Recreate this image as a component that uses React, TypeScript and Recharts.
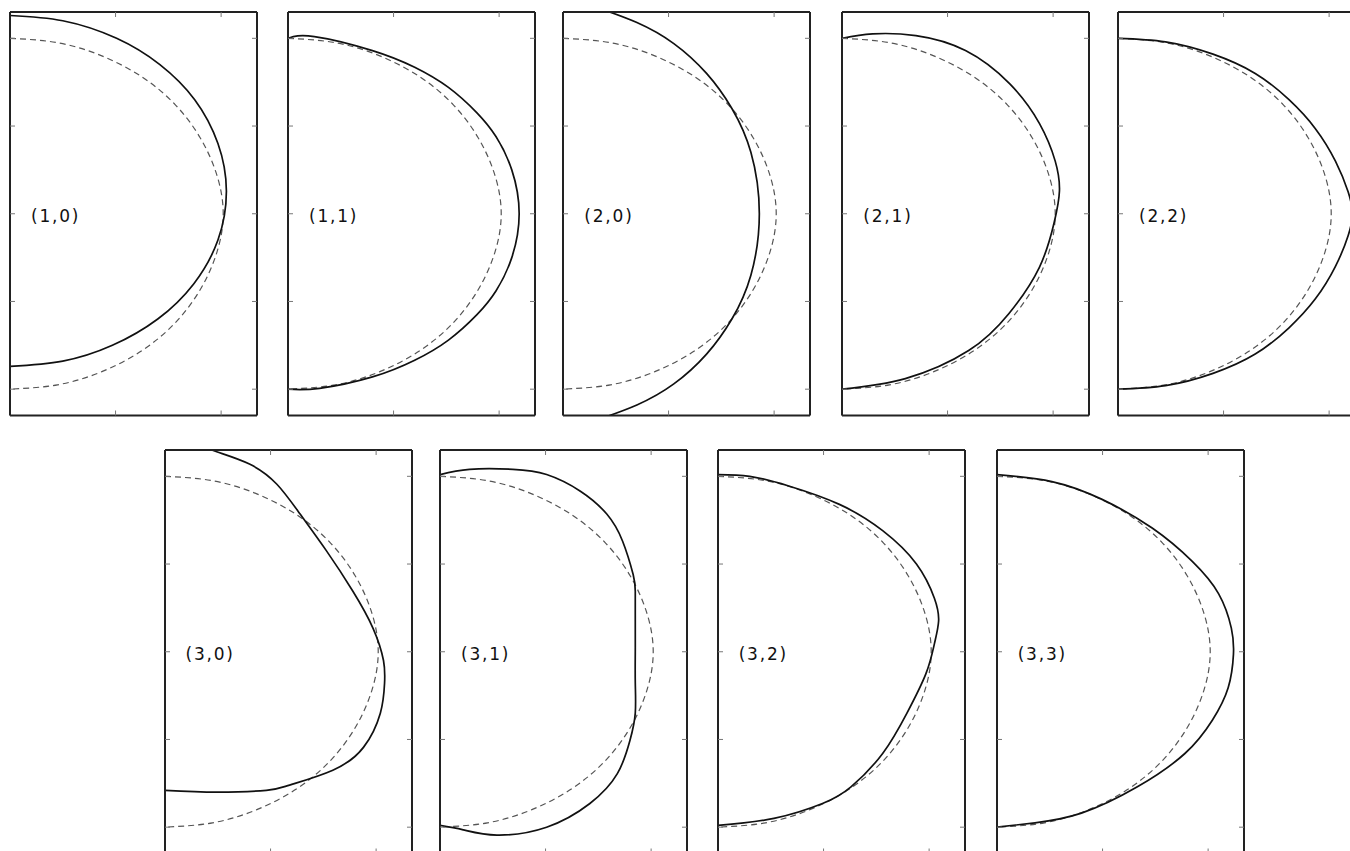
import React from "react";
import { LineChart, Line, XAxis, YAxis } from "recharts";

type Pt = { x: number; y: number };

const labels = ["(1,0)", "(1,1)", "(2,0)", "(2,1)", "(2,2)", "(3,0)", "(3,1)", "(3,2)", "(3,3)"];

const xTicks = [0, 1, 2];
const yTicks = [-2, -1, 0, 1, 2];

// dashed reference contour, same in every panel
const circle: Pt[] = [
  { x: 0, y: 2 }, { x: 0.45, y: 1.95 }, { x: 0.87, y: 1.8 }, { x: 1.25, y: 1.56 },
  { x: 1.56, y: 1.25 }, { x: 1.8, y: 0.87 }, { x: 1.96, y: 0.44 }, { x: 2.02, y: 0 },
  { x: 1.96, y: -0.44 }, { x: 1.8, y: -0.87 }, { x: 1.56, y: -1.25 }, { x: 1.25, y: -1.56 },
  { x: 0.87, y: -1.8 }, { x: 0.45, y: -1.95 }, { x: 0, y: -2 },
];

const mode10: Pt[] = [
  { x: 0, y: 2.26 }, { x: 0.5, y: 2.2 }, { x: 1.01, y: 2.0 }, { x: 1.42, y: 1.7 },
  { x: 1.75, y: 1.3 }, { x: 1.97, y: 0.8 }, { x: 2.05, y: 0.26 }, { x: 1.97, y: -0.3 },
  { x: 1.74, y: -0.8 }, { x: 1.4, y: -1.2 }, { x: 0.97, y: -1.5 }, { x: 0.5, y: -1.68 },
  { x: 0, y: -1.74 },
];

const mode11: Pt[] = [
  { x: 0, y: 2.0 }, { x: 0.25, y: 2.02 }, { x: 0.8, y: 1.86 }, { x: 1.2, y: 1.67 },
  { x: 1.52, y: 1.44 }, { x: 1.79, y: 1.15 }, { x: 1.97, y: 0.88 }, { x: 2.12, y: 0.5 },
  { x: 2.19, y: 0 }, { x: 2.12, y: -0.5 }, { x: 1.97, y: -0.88 }, { x: 1.79, y: -1.15 },
  { x: 1.52, y: -1.44 }, { x: 1.2, y: -1.67 }, { x: 0.8, y: -1.86 }, { x: 0.3, y: -1.99 },
  { x: 0, y: -2.0 },
];

const mode20: Pt[] = [
  { x: 0.3, y: 2.36 }, { x: 0.7, y: 2.18 }, { x: 1.05, y: 1.94 }, { x: 1.36, y: 1.6 },
  { x: 1.6, y: 1.2 }, { x: 1.78, y: 0.7 }, { x: 1.86, y: 0 }, { x: 1.78, y: -0.7 },
  { x: 1.6, y: -1.2 }, { x: 1.36, y: -1.6 }, { x: 1.05, y: -1.94 }, { x: 0.7, y: -2.18 },
  { x: 0.3, y: -2.36 },
];

const mode21: Pt[] = [
  { x: 0, y: 2.0 }, { x: 0.29, y: 2.05 }, { x: 0.7, y: 2.03 }, { x: 1.17, y: 1.86 },
  { x: 1.59, y: 1.48 }, { x: 1.87, y: 1.03 }, { x: 2.02, y: 0.6 }, { x: 2.06, y: 0.26 },
  { x: 2.01, y: -0.1 }, { x: 1.87, y: -0.61 }, { x: 1.58, y: -1.14 }, { x: 1.2, y: -1.56 },
  { x: 0.6, y: -1.88 }, { x: 0, y: -2.0 },
];

const mode22: Pt[] = [
  { x: 0, y: 2.0 }, { x: 0.45, y: 1.96 }, { x: 0.9, y: 1.82 }, { x: 1.3, y: 1.6 },
  { x: 1.62, y: 1.3 }, { x: 1.87, y: 0.97 }, { x: 2.06, y: 0.6 }, { x: 2.18, y: 0.25 },
  { x: 2.22, y: 0 }, { x: 2.18, y: -0.25 }, { x: 2.06, y: -0.6 }, { x: 1.87, y: -0.97 },
  { x: 1.62, y: -1.3 }, { x: 1.3, y: -1.6 }, { x: 0.9, y: -1.82 }, { x: 0.45, y: -1.96 },
  { x: 0, y: -2.0 },
];

const mode30: Pt[] = [
  { x: 0.3, y: 2.37 }, { x: 0.49, y: 2.28 }, { x: 0.8, y: 2.14 }, { x: 1.06, y: 1.91 },
  { x: 1.28, y: 1.57 }, { x: 1.53, y: 1.15 }, { x: 1.78, y: 0.69 }, { x: 1.97, y: 0.27 },
  { x: 2.07, y: -0.1 }, { x: 2.08, y: -0.36 }, { x: 2.04, y: -0.7 }, { x: 1.88, y: -1.09 },
  { x: 1.59, y: -1.35 }, { x: 1.18, y: -1.52 }, { x: 0.96, y: -1.58 }, { x: 0.49, y: -1.6 },
  { x: 0, y: -1.58 },
];

const mode31: Pt[] = [
  { x: 0, y: 2.02 }, { x: 0.28, y: 2.08 }, { x: 0.69, y: 2.08 }, { x: 1.01, y: 2.02 },
  { x: 1.33, y: 1.83 }, { x: 1.58, y: 1.57 }, { x: 1.73, y: 1.26 }, { x: 1.83, y: 0.88 },
  { x: 1.85, y: 0.69 }, { x: 1.85, y: 0.35 }, { x: 1.85, y: 0 }, { x: 1.85, y: -0.35 },
  { x: 1.85, y: -0.7 }, { x: 1.8, y: -1.01 }, { x: 1.68, y: -1.39 }, { x: 1.42, y: -1.73 },
  { x: 1.01, y: -2.0 }, { x: 0.54, y: -2.09 }, { x: 0.22, y: -2.03 }, { x: 0, y: -1.98 },
];

const mode32: Pt[] = [
  { x: 0, y: 2.02 }, { x: 0.3, y: 2.0 }, { x: 0.67, y: 1.89 }, { x: 1.15, y: 1.68 },
  { x: 1.56, y: 1.38 }, { x: 1.88, y: 1.0 }, { x: 2.05, y: 0.61 }, { x: 2.09, y: 0.35 },
  { x: 2.05, y: 0.09 }, { x: 1.97, y: -0.25 }, { x: 1.79, y: -0.7 }, { x: 1.56, y: -1.16 },
  { x: 1.26, y: -1.54 }, { x: 0.99, y: -1.73 }, { x: 0.53, y: -1.9 }, { x: 0, y: -1.98 },
];

const mode33: Pt[] = [
  { x: 0, y: 2.02 }, { x: 0.52, y: 1.94 }, { x: 0.99, y: 1.74 }, { x: 1.47, y: 1.41 },
  { x: 1.85, y: 1.03 }, { x: 2.1, y: 0.66 }, { x: 2.22, y: 0.27 }, { x: 2.24, y: -0.03 },
  { x: 2.19, y: -0.41 }, { x: 2.04, y: -0.78 }, { x: 1.78, y: -1.16 }, { x: 1.33, y: -1.54 },
  { x: 0.8, y: -1.84 }, { x: 0.36, y: -1.95 }, { x: 0, y: -2.0 },
];

const modes = [mode10, mode11, mode20, mode21, mode22, mode30, mode31, mode32, mode33];

// panel layout (page pixels)
const W = 247;
const H = 403.5;
const PAD = 2;
const spots = [
  [10, 11.5], [288, 11.5], [563.3, 11.5], [842.3, 11.5], [1118, 11.5],
  [164.5, 449.5], [440, 449.5], [717.7, 449.5], [996.7, 449.5],
];

const axisLine = { stroke: "#222", strokeWidth: 2 };
const tickLine = { stroke: "#777", strokeWidth: 1 };
const noText = () => "";

const Panel = ({ left, top, label, solid }: { left: number; top: number; label: string; solid: Pt[] }) => (
  <div style={{ position: "absolute", left: left - PAD, top: top - PAD }}>
    <LineChart
      width={W + 2 * PAD}
      height={H + 2 * PAD}
      margin={{ top: PAD, right: PAD, bottom: PAD, left: PAD }}
    >
      <XAxis xAxisId="b" type="number" dataKey="x" orientation="bottom" mirror domain={[0, 2.34]}
        ticks={xTicks} allowDataOverflow tickFormatter={noText} tickSize={5} axisLine={axisLine} tickLine={tickLine} />
      <XAxis xAxisId="t" type="number" dataKey="x" orientation="top" mirror domain={[0, 2.34]}
        ticks={xTicks} allowDataOverflow tickFormatter={noText} tickSize={5} axisLine={axisLine} tickLine={tickLine} />
      <YAxis yAxisId="l" type="number" orientation="left" mirror domain={[-2.3, 2.3]}
        ticks={yTicks} allowDataOverflow tickFormatter={noText} tickSize={5} axisLine={axisLine} tickLine={tickLine} />
      <YAxis yAxisId="r" type="number" orientation="right" mirror domain={[-2.3, 2.3]}
        ticks={yTicks} allowDataOverflow tickFormatter={noText} tickSize={5} axisLine={axisLine} tickLine={tickLine} />
      <Line xAxisId="t" yAxisId="r" data={circle} dataKey="y" type="natural" stroke="#555"
        strokeWidth={1.2} strokeDasharray="6 4" dot={false} isAnimationActive={false} />
      <Line xAxisId="b" yAxisId="l" data={solid} dataKey="y" type="natural" stroke="#111"
        strokeWidth={1.7} dot={false} isAnimationActive={false} />
    </LineChart>
    <div
      style={{
        position: "absolute",
        left: PAD + 21,
        top: PAD + H / 2 + 3,
        transform: "translateY(-50%)",
        fontFamily: "DejaVu Sans",
        fontSize: 17,
        letterSpacing: 1.8,
        lineHeight: 1,
        color: "#111",
        whiteSpace: "nowrap",
      }}
    >
      {label}
    </div>
  </div>
);

const App = () => (
  <div style={{ position: "absolute", left: 0, top: 0, width: 1350, height: 851, overflow: "hidden", background: "#fff" }}>
    {modes.map((m, i) => (
      <Panel key={labels[i]} left={spots[i][0]} top={spots[i][1]} label={labels[i]} solid={m} />
    ))}
  </div>
);

export default App;
